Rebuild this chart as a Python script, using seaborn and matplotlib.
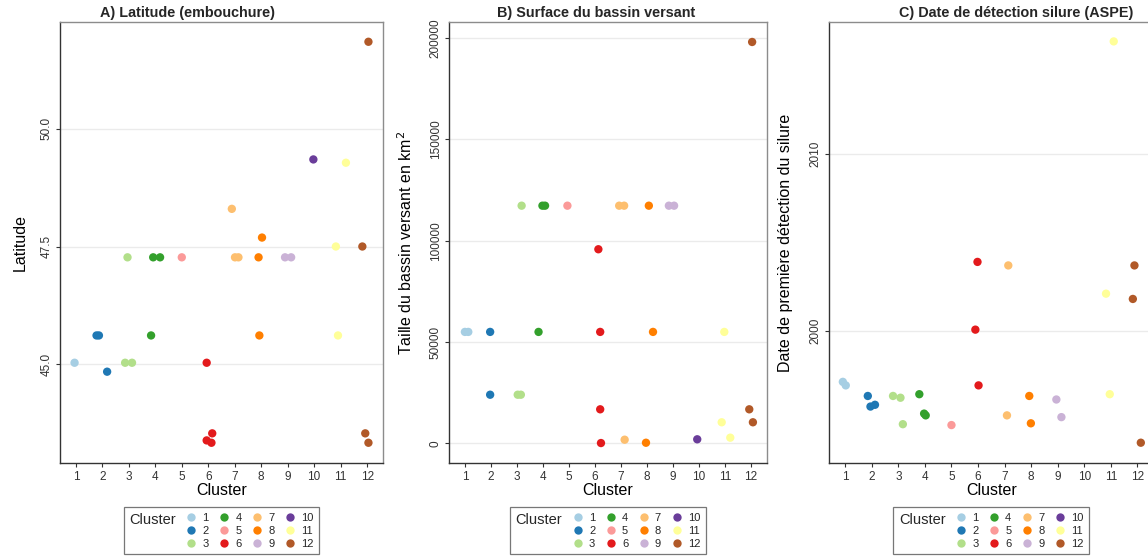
import numpy as np
import pandas as pd
import matplotlib
matplotlib.use("Agg")
import matplotlib.pyplot as plt
import seaborn as sns
from matplotlib.lines import Line2D

sns.set_theme(style="white")
plt.rcParams["font.family"] = ["Liberation Sans", "DejaVu Sans"]

CLUSTERS = [str(i) for i in range(1, 13)]

# ---------------- Panel A : latitude ----------------
lat_cluster = [1, 2, 2, 2, 3, 3, 3, 4, 4, 4, 5, 6, 6, 6, 6, 7, 7, 7, 8, 8, 8, 9, 9, 10,
               11, 11, 11, 12, 12, 12, 12]
lat_jitter = [-0.05, -0.22, -0.13, 0.18, -0.05, -0.14, 0.12, -0.08, 0.18, -0.16, 0.0,
              -0.06, 0.15, -0.06, 0.12, -0.11, 0.01, 0.14, 0.03, -0.10, -0.07, -0.10, 0.13,
              -0.03, 0.20, -0.18, -0.10, 0.05, -0.18, -0.07, 0.05]
lat_value = [45.03, 45.61, 45.61, 44.84, 47.27, 45.03, 45.03, 47.27, 47.27, 45.61, 47.27,
             45.03, 43.53, 43.38, 43.33, 48.30, 47.27, 47.27, 47.69, 47.27, 45.61, 47.27, 47.27,
             49.35, 49.28, 47.50, 45.61, 51.85, 47.50, 43.53, 43.33]

# ---------------- Panel B : surface du bassin versant ----------------
surf_cluster = [1, 1, 2, 2, 3, 3, 3, 4, 4, 4, 5, 6, 6, 6, 6, 7, 7, 7, 8, 8, 8, 9, 9, 10,
                11, 11, 11, 12, 12, 12]
surf_jitter = [0.0, 0.13, -0.03, -0.03, 0.18, 0.03, 0.15, -0.02, 0.08, -0.17, -0.06,
               0.13, 0.20, 0.20, 0.23, -0.07, 0.12, 0.14, 0.07, 0.23, -0.04, -0.16, 0.04,
               -0.07, -0.03, -0.13, 0.20, 0.04, -0.07, 0.07]
surf_value = [55000, 55000, 55000, 24000, 117300, 24000, 24000, 117300, 117300, 55000,
              117300, 95800, 55000, 16800, 150, 117300, 117300, 1800, 117300, 55000, 300,
              117300, 117300, 2000, 55000, 10400, 2800, 198100, 16800, 10400]

# ---------------- Panel C : date de detection ----------------
date_cluster = [1, 1, 2, 2, 2, 3, 3, 3, 4, 4, 4, 5, 6, 6, 6, 7, 7, 8, 8, 9, 9,
                11, 11, 11, 12, 12, 12]
date_jitter = [-0.09, 0.02, -0.15, -0.05, 0.12, -0.20, 0.08, 0.17, -0.21, -0.03, 0.03,
               0.0, -0.02, -0.10, 0.02, 0.14, 0.09, -0.07, -0.01, -0.05, 0.14,
               0.11, -0.18, -0.04, -0.11, -0.17, 0.13]
date_value = [1997.1, 1996.9, 1996.3, 1995.7, 1995.8, 1996.3, 1996.2, 1994.7, 1996.4,
              1995.3, 1995.2, 1994.65, 2003.9, 2000.06, 1996.9, 2003.7, 1995.2, 1996.3,
              1994.75, 1996.1, 1995.1, 2016.4, 2002.1, 1996.4, 2003.7, 2001.8, 1993.65]

titles = ["A) Latitude (embouchure)", "B) Surface du bassin versant",
          "C) Date de détection silure (ASPE)"]
ylabels = ["Latitude", "Taille du bassin versant en km$^2$",
           "Date de première détection du silure"]
yticks_list = [[45.0, 47.5, 50.0], [0, 50000, 100000, 150000, 200000], [2000, 2010]]
yticklabels_list = [["45.0", "47.5", "50.0"],
                    ["0", "50000", "100000", "150000", "200000"],
                    ["2000", "2010"]]
ylims = [(42.9, 52.27), (-9700, 207960), (1992.5, 2017.5)]

palette = dict(zip(CLUSTERS, sns.color_palette("Paired", 12)))

W, H = 1148, 560
fig = plt.figure(figsize=(W / 100, H / 100), dpi=100)

# panel geometry in pixels (left, right), shared top/bottom
boxes = [(60, 383), (449.3, 766.7), (829.3, 1153.3)]
TOP, BOT = 22, 463
title_cx = [188, 596, 1016]
ylab_x = [27.4, 415.5, 793.3]

datasets = [(lat_cluster, lat_jitter, lat_value),
            (surf_cluster, surf_jitter, surf_value),
            (date_cluster, date_jitter, date_value)]


def legend_title_left(leg):
    box = leg._legend_box
    tbox = leg._legend_title_box
    hbox = leg._legend_handle_box
    box._children = [hbox]
    hbox._children.insert(0, tbox)
    hbox.align = "top"


for i, (cl, jit, val) in enumerate(datasets):
    l, r = boxes[i]
    ax = fig.add_axes([l / W, 1 - BOT / H, (r - l) / W, (BOT - TOP) / H])
    df = pd.DataFrame({
        "Cluster": [str(c) for c in cl],
        "x": np.array(cl, dtype=float) + np.array(jit),
        "value": val,
    })
    sns.scatterplot(data=df, x="x", y="value", hue="Cluster", hue_order=CLUSTERS,
                    palette=palette, s=36, linewidth=0, alpha=1, legend=False, ax=ax,
                    zorder=3)
    ax.set_xlim(0.4, 12.6)
    ax.set_ylim(*ylims[i])
    ax.set_xticks(range(1, 13))
    ax.set_xticklabels(CLUSTERS)
    ax.set_yticks(yticks_list[i])
    ax.set_yticklabels(yticklabels_list[i], rotation=90, va="center")
    ax.tick_params(axis="both", length=3, width=0.8, color="#333333",
                   labelsize=8.5, labelcolor="#333333", pad=2.5, bottom=True, left=True)
    ax.yaxis.grid(True, color="#EBEBEB", linewidth=1)
    ax.xaxis.grid(False)
    ax.set_axisbelow(True)
    for s in ["top", "right"]:
        ax.spines[s].set_color("#8c8c8c")
        ax.spines[s].set_linewidth(1.0)
    for s in ["left", "bottom"]:
        ax.spines[s].set_color("#333333")
        ax.spines[s].set_linewidth(1.0)
    ax.set_xlabel("Cluster", fontsize=11.5, labelpad=0, color="black")
    ax.set_ylabel(ylabels[i], fontsize=11.5, color="black")
    ax.yaxis.set_label_coords((ylab_x[i] - l) / (r - l), 0.5)

    fig.text(title_cx[i] / W, 1 - 17.5 / H, titles[i], ha="center", va="baseline",
             fontsize=10.4, fontweight="bold")

    handles = [Line2D([0], [0], marker="o", linestyle="", markersize=6.0,
                      markerfacecolor=palette[c], markeredgewidth=0) for c in CLUSTERS]
    leg = ax.legend(handles, CLUSTERS, title="Cluster", ncol=4, loc="upper center",
                    bbox_to_anchor=(0.5, -(507.3 - BOT) / (BOT - TOP)), borderaxespad=0,
                    fontsize=8, title_fontsize=10.5, frameon=True, fancybox=False,
                    edgecolor="#555555", handlelength=1.0, handletextpad=0.5,
                    columnspacing=0.9, labelspacing=0.26, borderpad=0.5)
    leg.get_frame().set_linewidth(0.9)
    legend_title_left(leg)

fig.savefig("out.png", dpi=100)
